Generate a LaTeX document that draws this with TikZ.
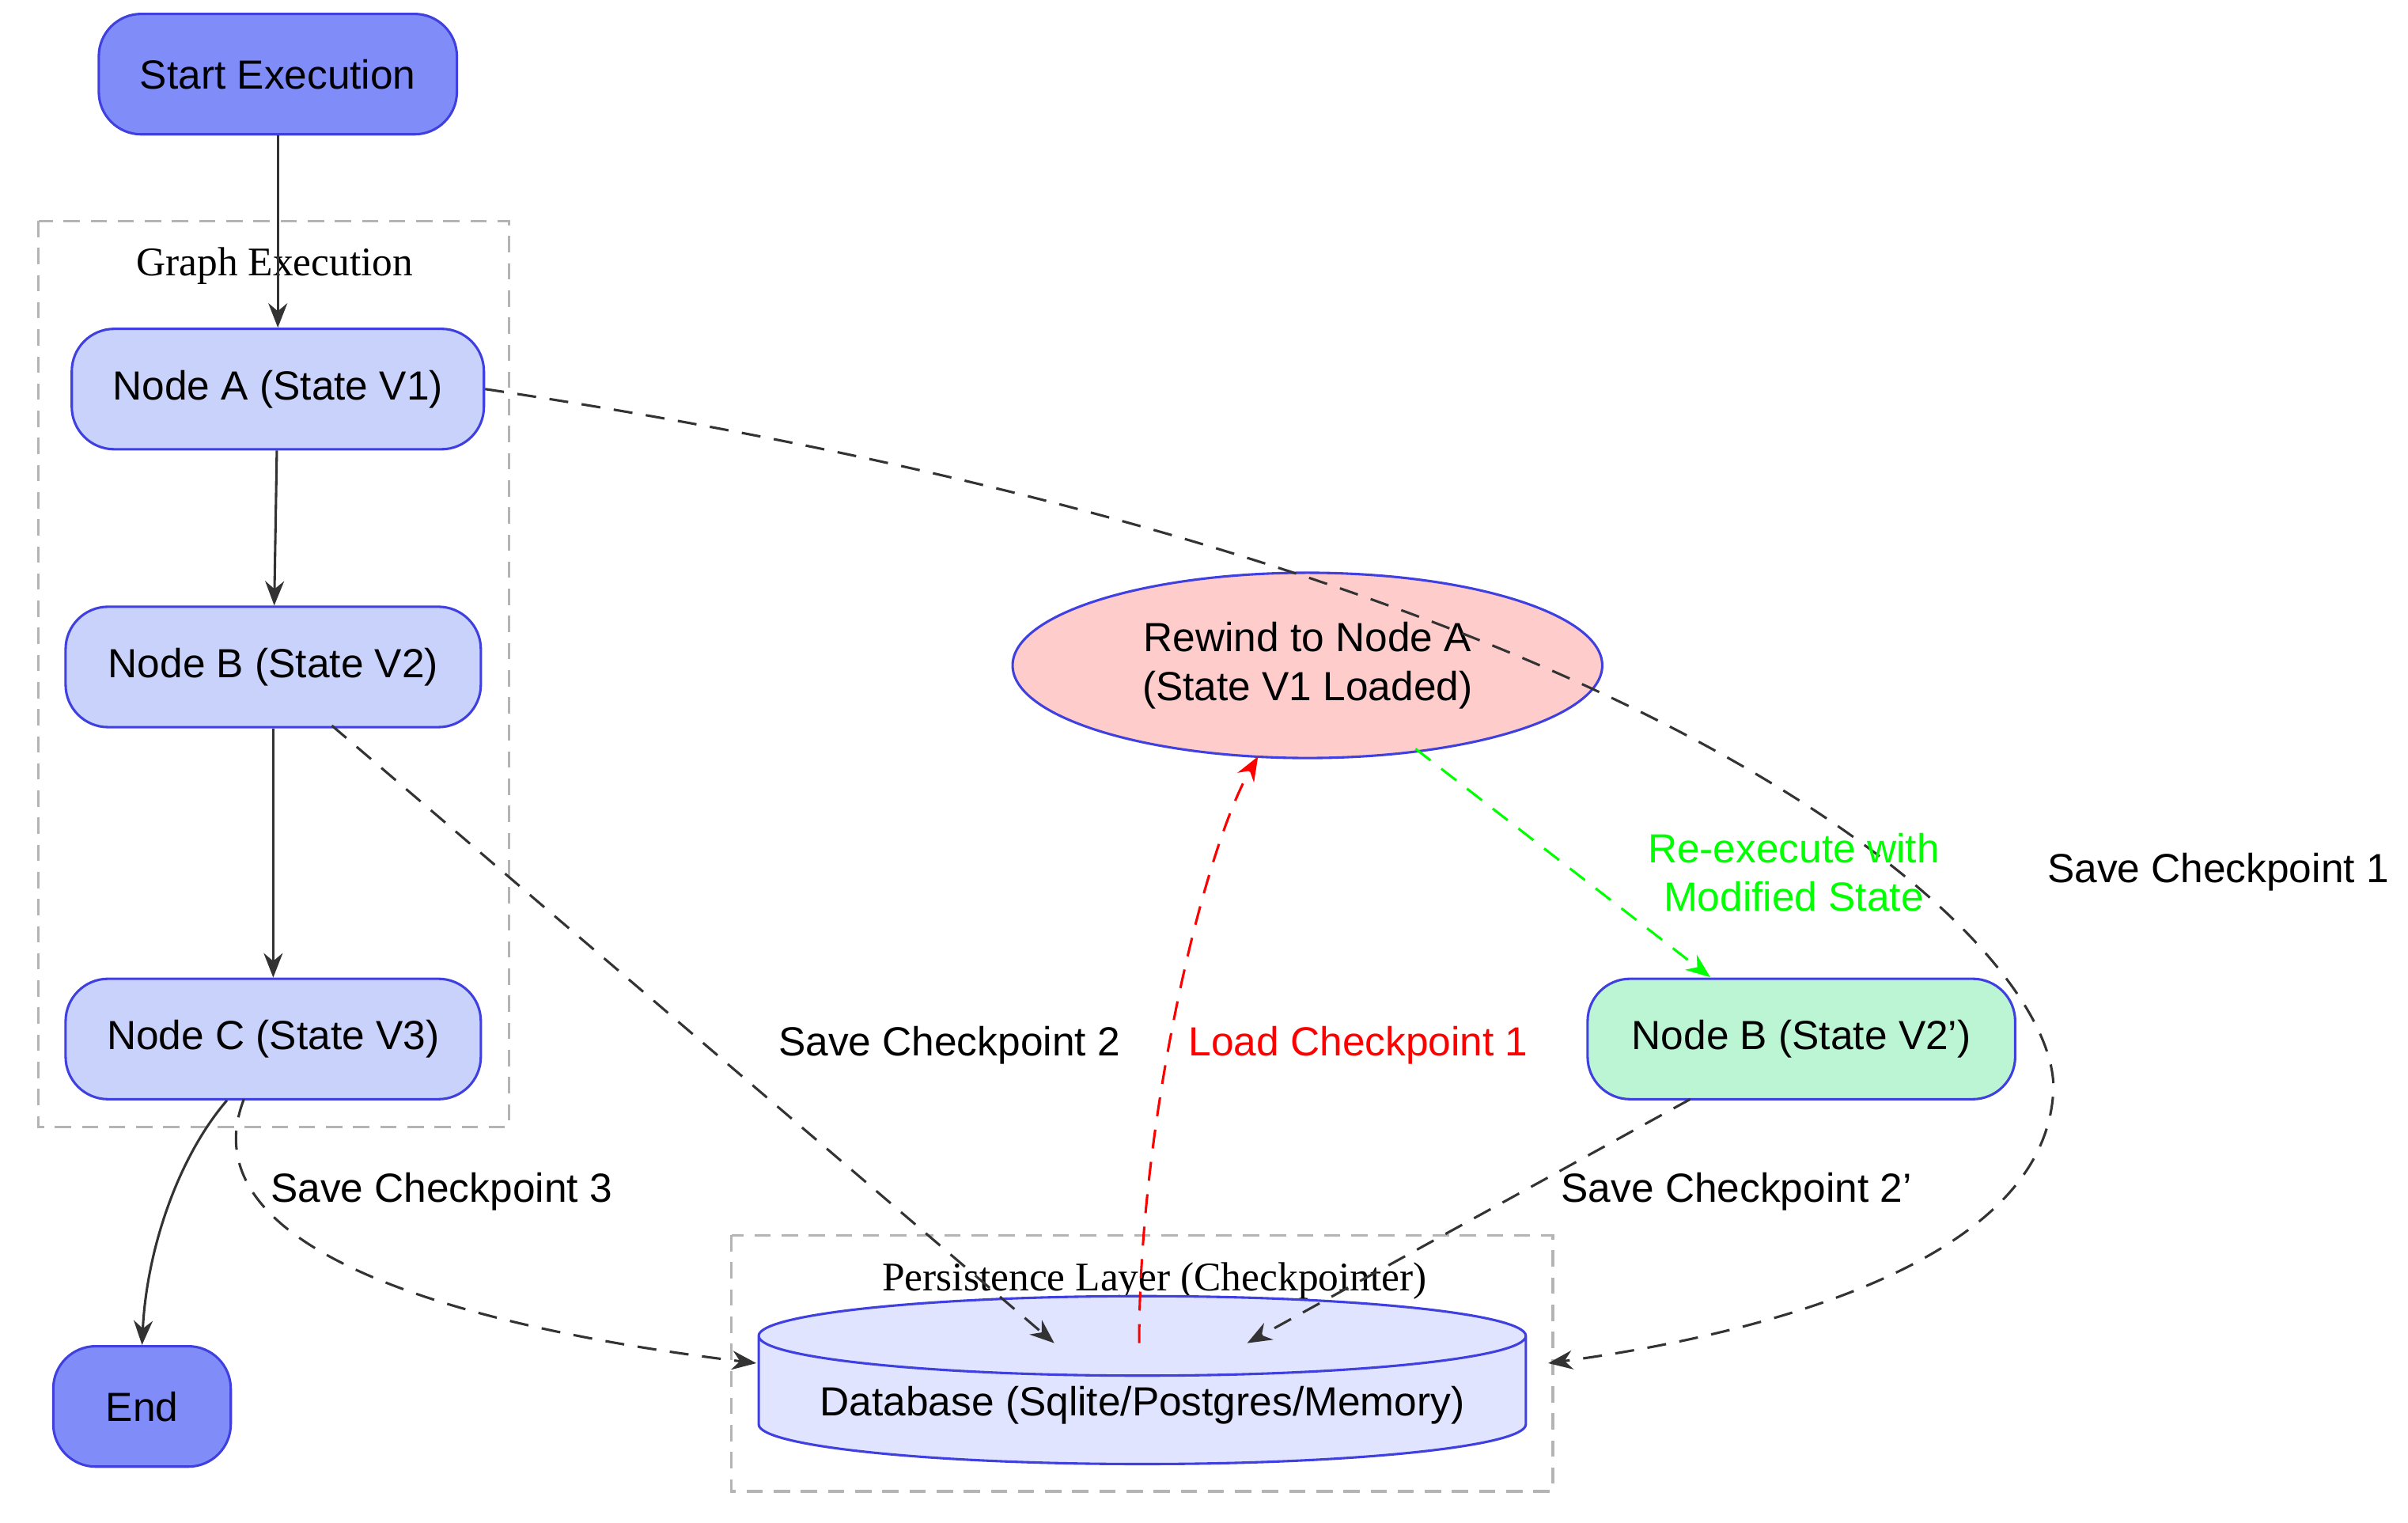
\documentclass[tikz,border=0pt]{standalone}
\usepackage{fontspec}
\setmainfont{Liberation Sans}
\newfontfamily\clusterfont{Liberation Serif}
\usetikzlibrary{arrows.meta,shapes.geometric,positioning}
\definecolor{st_blue}{RGB}{128, 140, 248}
\definecolor{nd_blue}{RGB}{200, 210, 250}
\definecolor{nd_edge}{RGB}{64, 64, 224}
\definecolor{rw_red}{RGB}{255, 204, 204}
\definecolor{nb_green}{RGB}{188, 245, 212}
\definecolor{db_blue}{RGB}{224, 228, 255}
\definecolor{ln_grey}{RGB}{51, 51, 51}
\definecolor{cl_grey}{RGB}{180, 180, 180}
\tikzset{
  tnode/.style={rectangle,rounded corners=0.55cm,draw=nd_edge,line width=0.9pt,
    font=\fontsize{15}{18}\selectfont,minimum height=1.56cm,inner sep=2pt},
  term/.style={tnode,fill=st_blue},
  gstep/.style={tnode,fill=nd_blue},
  flow/.style={draw=ln_grey,line width=0.9pt,-{Stealth[length=9pt,width=7pt]}},
  save/.style={flow,dash pattern=on 7pt off 5pt},
  lbl/.style={font=\fontsize{15}{18}\selectfont,align=center},
  cluster/.style={draw=cl_grey,line width=0.9pt,dash pattern=on 6pt off 4pt},
}
\begin{document}
\begin{tikzpicture}
  \useasboundingbox (0,0) rectangle (31.2,-19.73);
  % clusters
  \draw[cluster] (0.5,-2.86) rectangle (6.6,-14.6);
  \node[font=\clusterfont\fontsize{15}{18}\selectfont] (gexec) at (3.56,-3.44) {Graph Execution};
  \draw[cluster] (9.48,-16.0) rectangle (20.12,-19.32);
  \node[font=\clusterfont\fontsize{15}{18}\selectfont] (players) at (14.96,-16.6) {Persistence Layer (Checkpointer)};
  % nodes
  \node[term,minimum width=4.64cm] (start) at (3.6,-0.96) {Start Execution};
  \node[gstep,minimum width=5.34cm] (na) at (3.6,-5.04) {Node A (State V1)};
  \node[gstep,minimum width=5.38cm] (nb) at (3.54,-8.64) {Node B (State V2)};
  \node[gstep,minimum width=5.38cm] (nc) at (3.54,-13.46) {Node C (State V3)};
  \node[term,minimum width=2.3cm] (end) at (1.84,-18.22) {End};
  \node[ellipse,draw=nd_edge,fill=rw_red,line width=0.9pt,minimum width=7.64cm,
    minimum height=2.4cm,lbl] (rewind) at (16.94,-8.62) {Rewind to Node A\\(State V1 Loaded)};
  \node[tnode,fill=nb_green,minimum width=5.54cm] (nbp) at (23.34,-13.46) {Node B (State V2')};
  \node[cylinder,shape border rotate=90,aspect=0.12,draw=nd_edge,fill=db_blue,
    line width=0.9pt,minimum width=9.94cm,minimum height=1.5cm,lbl] (db) at (14.8,-18.2)
    {Database (Sqlite/Postgres/Memory)};
  \coordinate (dbin2) at (13.66,-17.4);
  \coordinate (dbin2p) at (16.16,-17.4);
  \coordinate (dbout) at (14.76,-17.4);
  \coordinate (dbin3) at (9.8,-17.66);
  \coordinate (dbin1) at (20.06,-17.66);
  % edges
  \draw[flow] (start) -- (na);
  \draw[flow] (na) -- (nb);
  \draw[flow] (nb) -- (nc);
  \draw[flow] (nc.south) ++(-0.6,0) .. controls (2.3,-15.0) and (1.9,-16.2) .. (end.north);
  \draw[save] (na.east) .. controls (22.0,-7.4) and (26.8,-12.4) .. (26.6,-14.2)
    .. controls (26.4,-16.6) and (22.0,-17.4) .. (dbin1);
  \node[lbl] (sc1) at (28.74,-11.3) {Save Checkpoint 1};
  \draw[save] (4.3,-9.4) -- (dbin2);
  \node[lbl] (sc2) at (12.3,-13.54) {Save Checkpoint 2};
  \draw[save] (3.16,-14.24) .. controls (2.4,-16.2) and (6.0,-17.2) .. (dbin3);
  \node[lbl] (sc3) at (5.72,-15.44) {Save Checkpoint 3};
  \draw[save,draw=red,-{Stealth[length=9pt,width=7pt,fill=red]}] (dbout) .. controls (14.76,-14.5) and (15.6,-11.0) .. (16.3,-9.8);
  \node[lbl,text=red] (lc1) at (17.6,-13.54) {Load Checkpoint 1};
  \draw[save,draw=green,-{Stealth[length=9pt,width=7pt,fill=green]}] (18.34,-9.7) -- (22.16,-12.66);
  \node[lbl,text=green] (rex) at (23.24,-11.3) {Re-execute with\\Modified State};
  \draw[save] (21.9,-14.24) -- (dbin2p);
  \node[lbl] (sc2p) at (22.5,-15.44) {Save Checkpoint 2'};
\end{tikzpicture}
\end{document}
